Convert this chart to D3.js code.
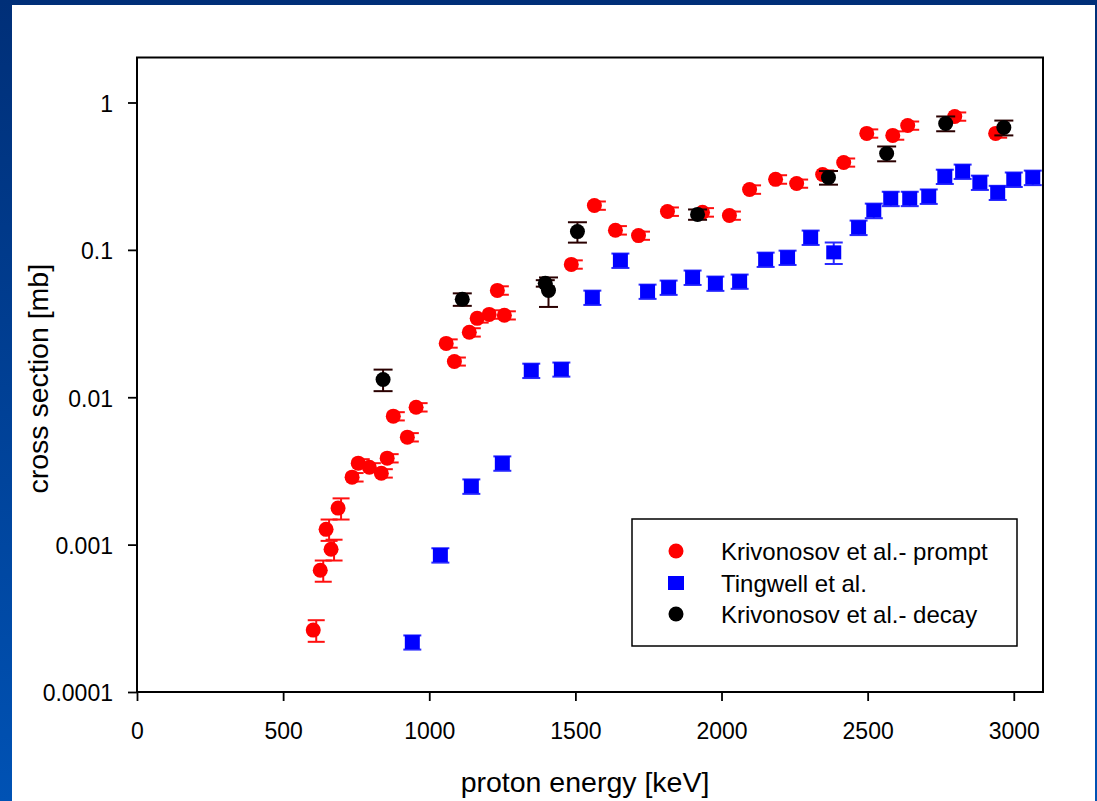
<!DOCTYPE html>
<html>
<head>
<meta charset="utf-8">
<script src="https://cdn.jsdelivr.net/npm/d3@7"></script>
<style>
  html, body { margin: 0; padding: 0; }
  body { width: 1097px; height: 801px; overflow: hidden; }
  text { font-family: "Liberation Sans", Arial, sans-serif; fill: #000; }
</style>
</head>
<body>
<svg id="chart" width="1097" height="801"></svg>
<script>
// ---- data (energy in keV, cross section in mb) ----
const promptE = [603, 627, 647, 664, 688, 736, 757, 795, 836, 856, 877, 925, 955,
  1058, 1086, 1137, 1164, 1205, 1233, 1257, 1486, 1565, 1637, 1716, 1815, 1935, 2027,
  2096, 2185, 2257, 2346, 2418, 2497, 2586, 2637, 2798, 2938];
const promptSigma = [2.63e-4, 6.7e-4, 1.27e-3, 9.3e-4, 1.77e-3, 2.87e-3, 3.57e-3, 3.35e-3,
  3.05e-3, 3.86e-3, 7.44e-3, 5.36e-3, 8.56e-3, 0.0232, 0.0175, 0.0276, 0.0343, 0.0365,
  0.0531, 0.0360, 0.0797, 0.200, 0.136, 0.125, 0.182, 0.180, 0.171, 0.257, 0.301, 0.282,
  0.325, 0.392, 0.617, 0.598, 0.698, 0.804, 0.617];
const promptErr = [4.4e-5, 1.1e-4, 2.1e-4, 1.5e-4, 2.9e-4, 1.9e-4, 2.3e-4, 2.2e-4,
  2.0e-4, 2.5e-4, 4.8e-4, 3.5e-4, 5.6e-4, 0.0015, 0.0011, 0.0018, 0.0022, 0.0024,
  0.0035, 0.0023, 0.0052, 0.013, 0.009, 0.008, 0.012, 0.012, 0.011, 0.017, 0.020, 0.018,
  0.021, 0.025, 0.040, 0.039, 0.045, 0.052, 0.040];

const tingE = [942, 1038, 1144, 1250, 1349, 1452, 1558, 1654, 1747, 1819, 1901, 1979,
  2062, 2151, 2226, 2305, 2384, 2469, 2521, 2579, 2644, 2709, 2764, 2825, 2884, 2945,
  3000, 3065];
const tingSigma = [2.18e-4, 8.5e-4, 2.49e-3, 3.57e-3, 0.0152, 0.0155, 0.0476, 0.0849,
  0.0523, 0.0557, 0.0651, 0.0593, 0.0612, 0.0862, 0.0889, 0.1216, 0.0962, 0.142, 0.185,
  0.223, 0.223, 0.231, 0.315, 0.341, 0.287, 0.245, 0.301, 0.310];
const tingErr = [2.4e-5, 9.5e-5, 2.8e-4, 4.0e-4, 0.0017, 0.0017, 0.0053, 0.0095,
  0.0058, 0.0062, 0.0073, 0.0066, 0.0068, 0.0096, 0.0099, 0.0136, 0.016, 0.016, 0.021,
  0.025, 0.025, 0.026, 0.035, 0.038, 0.032, 0.027, 0.034, 0.035];

const decayE = [842, 1113, 1397, 1408, 1507, 1918, 2366, 2565, 2767, 2966];
const decaySigma = [0.0132, 0.0462, 0.0593, 0.0530, 0.133, 0.174, 0.310, 0.451, 0.721, 0.676];
const decayErr = [0.0022, 0.0045, 0.003, 0.012, 0.021, 0.014, 0.033, 0.052, 0.083, 0.078];

const seriesNames = ["Krivonosov et al.- prompt", "Tingwell et al.", "Krivonosov et al.- decay"];
const xTicks = [0, 500, 1000, 1500, 2000, 2500, 3000];
const yTicks = [1e-4, 1e-3, 1e-2, 1e-1, 1];
const yTickLabels = ["0.0001", "0.001", "0.01", "0.1", "1"];
const xTitle = "proton energy [keV]";
const yTitle = "cross section [mb]";

// ---- layout ----
const svg = d3.select("#chart");
const L = 137, R = 1043, T = 57.5, B = 692;

// slide background
const defs = svg.append("defs");
const grad = defs.append("linearGradient").attr("id", "bg").attr("x1", 0).attr("y1", 0).attr("x2", 0).attr("y2", 1);
grad.append("stop").attr("offset", "0%").attr("stop-color", "#002f78");
grad.append("stop").attr("offset", "100%").attr("stop-color", "#0052b4");
svg.append("rect").attr("width", 1097).attr("height", 801).attr("fill", "url(#bg)");
svg.append("rect").attr("x", 12).attr("y", 5).attr("width", 1083).attr("height", 796).attr("fill", "#fff");

const x = d3.scaleLinear().domain([0, 3100]).range([L, R]);
const y = d3.scaleLog().domain([1e-4, 2.02]).range([B, T]);

// axes
const fontTick = 23;
const xAxis = svg.append("g").attr("transform", `translate(0,${B})`)
  .call(d3.axisBottom(x).tickValues(xTicks).tickFormat(d3.format("d")).tickSize(9).tickSizeOuter(0));
xAxis.select(".domain").remove();
xAxis.selectAll(".tick line").attr("stroke", "#000").attr("stroke-width", 1.8);
xAxis.selectAll(".tick text").attr("dy", 0).attr("y", 47)
  .style("font-size", fontTick + "px").style("font-family", '"Liberation Sans", Arial, sans-serif');

const yAxis = svg.append("g").attr("transform", `translate(${L},0)`)
  .call(d3.axisLeft(y).tickValues(yTicks).tickFormat((d, i) => yTickLabels[i]).tickSize(9).tickPadding(15).tickSizeOuter(0));
yAxis.select(".domain").remove();
yAxis.selectAll(".tick line").attr("stroke", "#000").attr("stroke-width", 1.8);
yAxis.selectAll(".tick text").attr("dy", "0.38em")
  .style("font-size", fontTick + "px").style("font-family", '"Liberation Sans", Arial, sans-serif');

// frame
svg.append("rect").attr("x", L).attr("y", T).attr("width", R - L).attr("height", B - T)
  .attr("fill", "none").attr("stroke", "#000").attr("stroke-width", 2);

// titles
svg.append("text").attr("x", (L + R) / 2 - 5).attr("y", 792).attr("text-anchor", "middle")
  .style("font-size", "28.5px").text(xTitle);
svg.append("text").attr("transform", `translate(48,${(T + B) / 2 + 4}) rotate(-90)`).attr("text-anchor", "middle")
  .style("font-size", "28.5px").text(yTitle);

// data
const plot = svg.append("g");
function errorBars(E, S, Er, color, dx, capW) {
  const g = plot.append("g").attr("stroke", color).attr("stroke-width", 2).attr("fill", "none");
  E.forEach((e, i) => {
    const cx = x(e) + dx;
    const y1 = y(S[i] + Er[i]), y0 = y(Math.max(S[i] - Er[i], 1.1e-4));
    g.append("line").attr("x1", cx).attr("x2", cx).attr("y1", y1).attr("y2", y0);
    g.append("line").attr("x1", cx - capW / 2).attr("x2", cx + capW / 2).attr("y1", y1).attr("y2", y1);
    g.append("line").attr("x1", cx - capW / 2).attr("x2", cx + capW / 2).attr("y1", y0).attr("y2", y0);
  });
}

// prompt (red circles)
errorBars(promptE, promptSigma, promptErr, "#ff1010", 3, 17);
plot.append("g").selectAll("circle").data(promptE).join("circle")
  .attr("cx", d => x(d)).attr("cy", (d, i) => y(promptSigma[i])).attr("r", 7.5).attr("fill", "#ff0000");

// Tingwell (blue squares)
errorBars(tingE, tingSigma, tingErr, "#2a2aff", 0, 18);
plot.append("g").selectAll("rect").data(tingE).join("rect")
  .attr("x", d => x(d) - 7.5).attr("y", (d, i) => y(tingSigma[i]) - 7).attr("width", 15).attr("height", 14)
  .attr("fill", "#0000ff");

// decay (black circles)
errorBars(decayE, decaySigma, decayErr, "#2a0000", 0, 19);
plot.append("g").selectAll("circle").data(decayE).join("circle")
  .attr("cx", d => x(d)).attr("cy", (d, i) => y(decaySigma[i])).attr("r", 7.5).attr("fill", "#000");

// legend
const lg = svg.append("g");
lg.append("rect").attr("x", 632).attr("y", 519).attr("width", 385).attr("height", 127)
  .attr("fill", "#fff").attr("stroke", "#000").attr("stroke-width", 1.5);
const rowsY = [551, 583, 614];
lg.append("circle").attr("cx", 676).attr("cy", rowsY[0]).attr("r", 7.5).attr("fill", "#ff0000");
lg.append("rect").attr("x", 668).attr("y", rowsY[1] - 7).attr("width", 16).attr("height", 14).attr("fill", "#0000ff");
lg.append("circle").attr("cx", 676).attr("cy", rowsY[2]).attr("r", 7.5).attr("fill", "#000");
seriesNames.forEach((n, i) => {
  lg.append("text").attr("x", 721).attr("y", rowsY[i] + 9).style("font-size", "24px").text(n);
});
</script>
</body>
</html>
